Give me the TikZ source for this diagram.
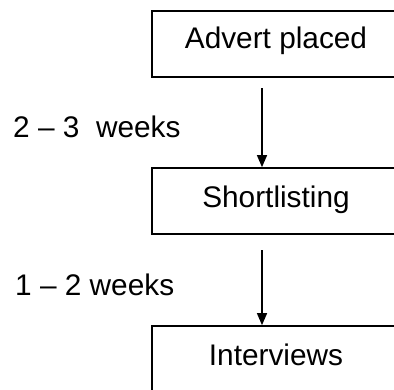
\documentclass[tikz,border=0pt]{standalone}
\usepackage{fontspec}
\setmainfont{Liberation Sans}
\usetikzlibrary{arrows.meta}
\begin{document}
\begin{tikzpicture}[x=1pt,y=-1pt,
  stagebox/.style={draw=black,line width=1.7pt,minimum width=248pt,minimum height=66pt,inner sep=0pt},
  lbl/.style={inner sep=0pt,anchor=base,font=\fontsize{29.8}{36}\selectfont},
  wlbl/.style={inner sep=0pt,anchor=base west,font=\fontsize{29.8}{36}\selectfont},
  flow/.style={line width=1.4pt,-{Triangle[length=12pt,width=10pt]}}]
\useasboundingbox (0,0) rectangle (394,389);
\clip (0,0) rectangle (394,389);
\node[stagebox] (b1) at (276,44) {};
\node[stagebox] (b2) at (276,201) {};
\node[stagebox,minimum height=68pt] (b3) at (276,360) {};
\node[lbl] (t1) at (276,48) {Advert placed};
\node[lbl] (t2) at (276,207) {Shortlisting};
\node[lbl] (t3) at (276,365) {Interviews};
\node[wlbl] (d1) at (13,137) {2 – 3\ \ weeks};
\node[wlbl] (d2) at (15,295) {1 – 2 weeks};
\coordinate (s1) at (262,88);
\coordinate (s2) at (262,250);
\draw[flow] (s1) -- (s1 |- b2.north);
\draw[flow] (s2) -- (s2 |- b3.north);
\end{tikzpicture}
\end{document}
